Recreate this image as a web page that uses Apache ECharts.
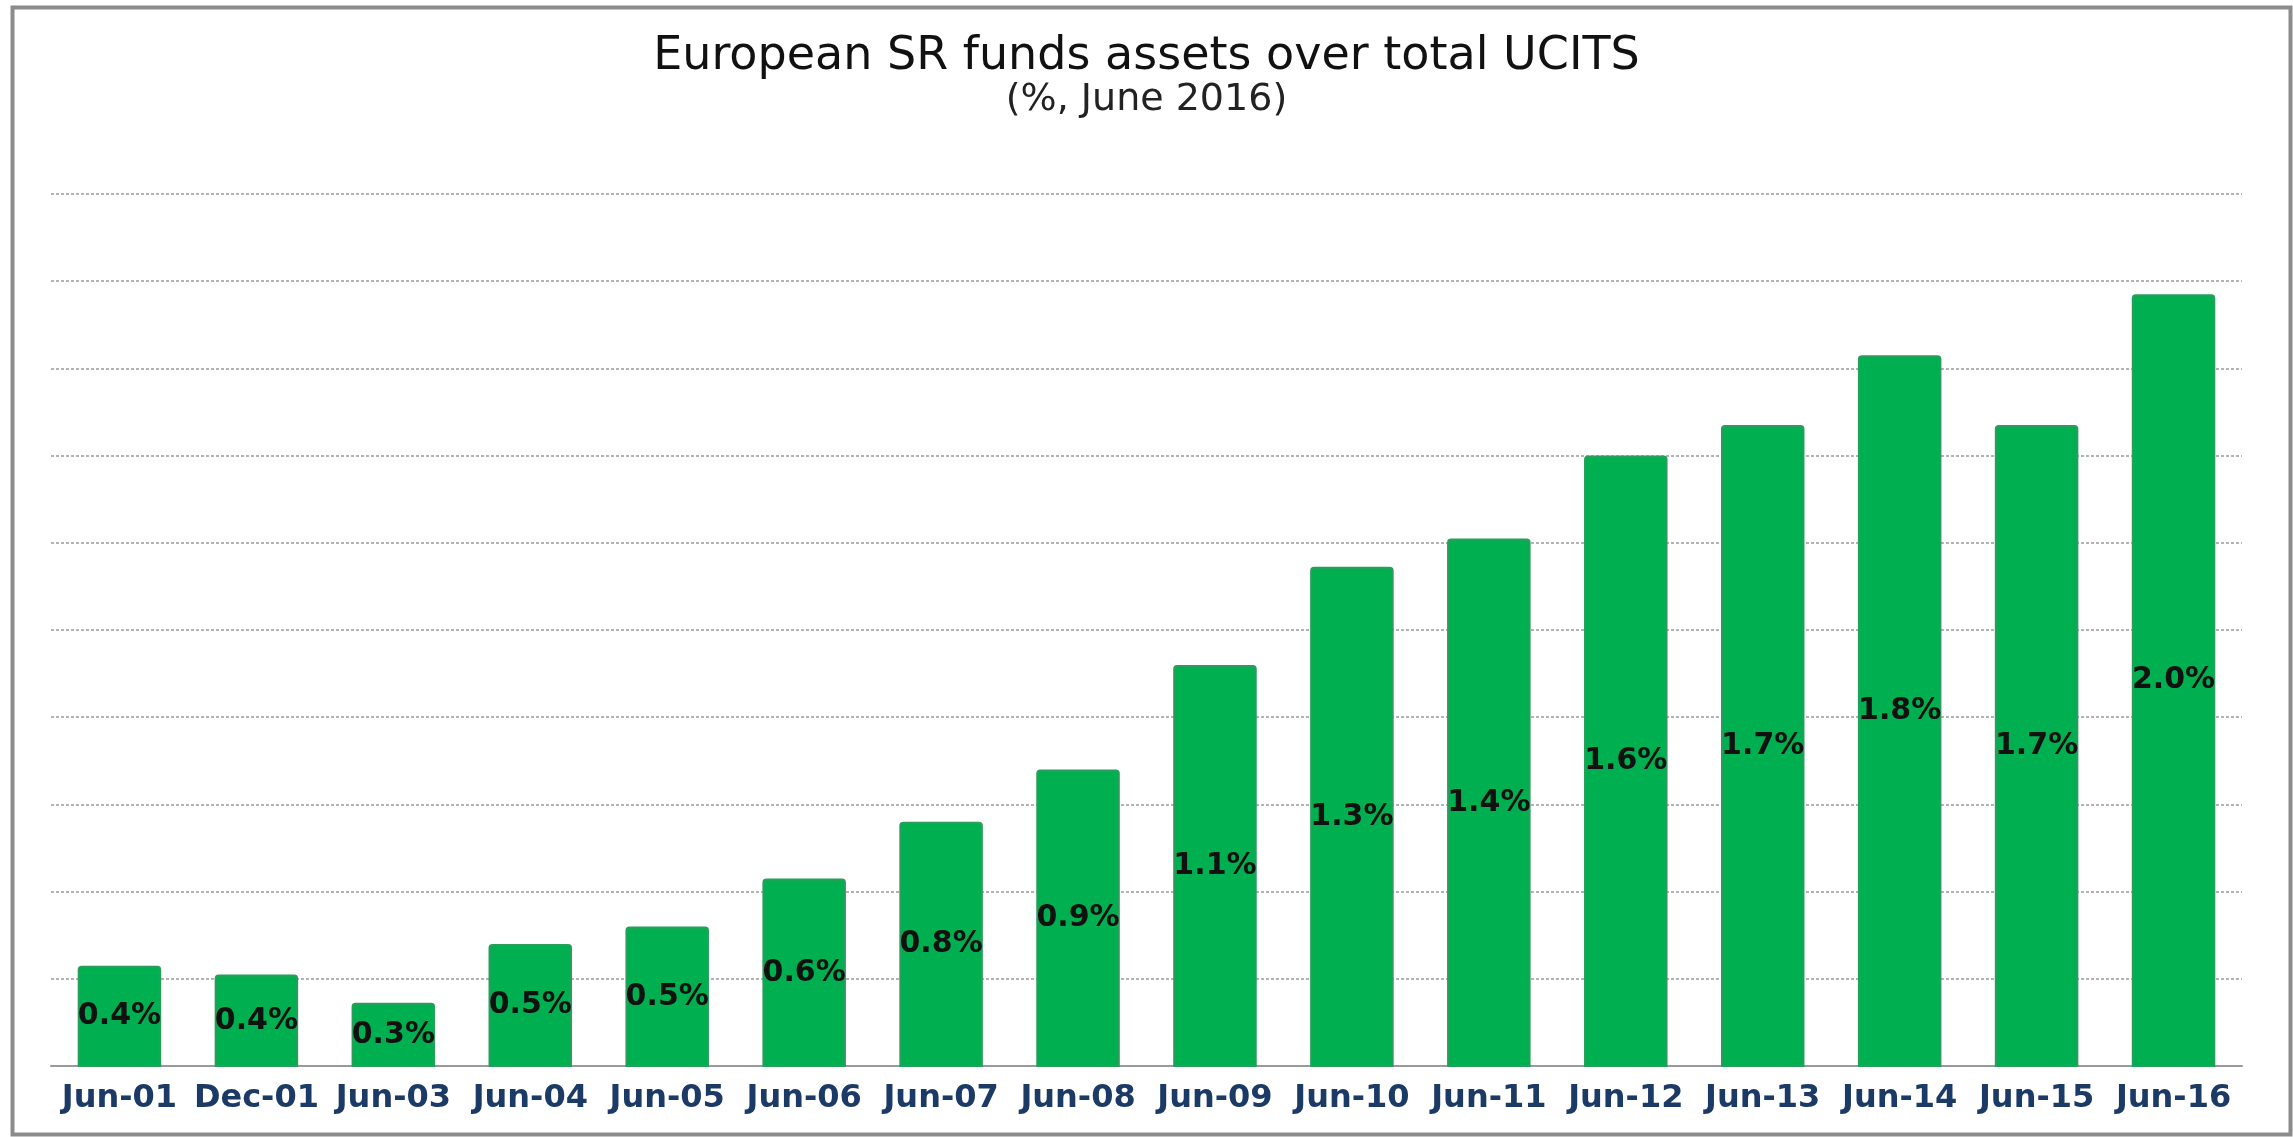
<!DOCTYPE html>
<html>
<head>
<meta charset="utf-8">
<script src="https://cdn.jsdelivr.net/npm/echarts@6/dist/echarts.min.js"></script>
<style>
  html, body { margin: 0; padding: 0; background: #fff; }
  #main { width: 2293px; height: 1137px; }
</style>
</head>
<body>
<div id="main"></div>
<script>
// 类目（半年度/年度）
var periods = ['Jun-01', 'Dec-01', 'Jun-03', 'Jun-04', 'Jun-05', 'Jun-06', 'Jun-07', 'Jun-08',
               'Jun-09', 'Jun-10', 'Jun-11', 'Jun-12', 'Jun-13', 'Jun-14', 'Jun-15', 'Jun-16'];
// SR funds share of total UCITS (%)
var srShare = [0.43, 0.41, 0.345, 0.48, 0.52, 0.63, 0.76, 0.88,
               1.12, 1.345, 1.41, 1.60, 1.67, 1.83, 1.67, 1.97];
// hidden value axis range
var axisMin = 0.2;
var axisMax = 2.2;
var axisStep = 0.2;

var chart = echarts.init(document.getElementById('main'));
chart.setOption({
    animation: false,
    backgroundColor: '#fff',
    title: [
        {
            text: 'European SR funds assets over total UCITS',
            left: 'center',
            top: 29,
            textStyle: {
                fontFamily: 'DejaVu Sans',
                fontSize: 46,
                fontWeight: 'normal',
                color: '#111'
            }
        },
        {
            text: '(%, June 2016)',
            left: 'center',
            top: 76,
            textStyle: {
                fontFamily: 'DejaVu Sans',
                fontSize: 38,
                fontWeight: 'normal',
                color: '#222'
            }
        }
    ],
    // 外框
    graphic: [{
        type: 'rect',
        left: 10,
        top: 5,
        shape: { width: 2278, height: 1127 },
        style: { fill: 'none', stroke: '#8c8c8c', lineWidth: 4 },
        silent: true
    }],
    grid: {
        left: 51,
        right: 51,
        top: 194,
        bottom: 71
    },
    xAxis: {
        type: 'category',
        data: periods,
        axisTick: { show: false },
        axisLine: {
            onZero: false,
            lineStyle: { color: '#9a9a9a', width: 2 }
        },
        axisLabel: {
            margin: 17,
            interval: 0,
            fontFamily: 'DejaVu Sans',
            fontSize: 32,
            fontWeight: 'bold',
            color: '#1b3a66'
        }
    },
    yAxis: {
        type: 'value',
        min: axisMin,
        max: axisMax,
        interval: axisStep,
        axisLine: { show: false },
        axisTick: { show: false },
        axisLabel: { show: false },
        splitLine: {
            lineStyle: {
                color: '#9a9a9a',
                width: 1.5,
                type: [3, 2]
            }
        }
    },
    series: [{
        type: 'bar',
        data: srShare,
        barWidth: '61%',
        clip: true,
        itemStyle: {
            color: '#00b050',
            borderColor: '#2a9d5c',
            borderWidth: 2,
            borderRadius: [3, 3, 0, 0]
        },
        label: {
            show: true,
            position: 'inside',
            fontFamily: 'DejaVu Sans',
            fontSize: 30,
            fontWeight: 'bold',
            color: '#111',
            formatter: function (p) {
                return p.value.toFixed(1) + '%';
            }
        }
    }]
});
</script>
</body>
</html>
